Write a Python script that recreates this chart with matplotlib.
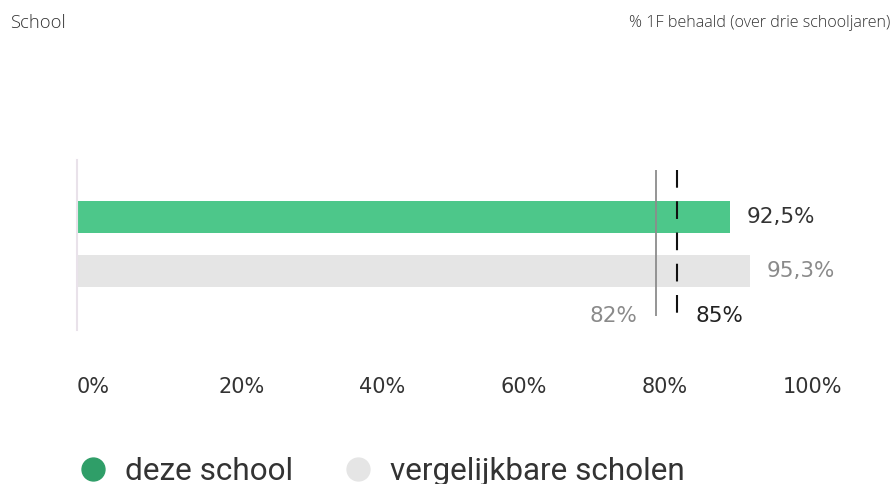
import matplotlib.pyplot as plt
from matplotlib.lines import Line2D

# data
series = ["deze school", "vergelijkbare scholen"]
values = [92.5, 95.3]
ref_lines = [82, 85]          # signaalwaarde / streefwaarde
x_ticks = [0, 20, 40, 60, 80, 100]

bar_colors = ["#4dc78a", "#e5e5e5"]
legend_colors = ["#2f9e68", "#e5e5e5"]
value_colors = ["#333333", "#8a8a8a"]


def pct(v):
    # Dutch notation: comma as decimal separator
    s = f"{v:.1f}" if v % 1 else f"{v:.0f}"
    return s.replace(".", ",") + "%"


W, H = 894, 484
fig = plt.figure(figsize=(W / 100, H / 100), dpi=100)
ax = fig.add_axes([77 / W, (H - 330) / H, 706 / W, 170 / H])

ypos = list(range(len(values)))
ax.barh(ypos, values, height=0.59, color=bar_colors)
ax.set_xlim(0, 100)
ax.set_ylim(2.086, -1.044)

# value labels next to the bars
for y, v, c in zip(ypos, values, value_colors):
    ax.annotate(pct(v), (v, y), xytext=(12, 0), textcoords="offset points",
                ha="left", va="center", fontsize=15.5, color=c)

# reference lines
line_bottom = 1.83
ax.vlines(ref_lines[0], -0.86, line_bottom, color="#8c8c8c", lw=1.3)
ax.vlines(ref_lines[1], -0.86, line_bottom, color="#111111", lw=1.5,
          linestyles=(0, (8.5, 6.5)))
ax.annotate(pct(ref_lines[0]), (ref_lines[0], line_bottom), xytext=(-13, 0),
            textcoords="offset points", ha="right", va="center",
            fontsize=15.5, color="#8a8a8a")
ax.annotate(pct(ref_lines[1]), (ref_lines[1], line_bottom), xytext=(13, 0),
            textcoords="offset points", ha="left", va="center",
            fontsize=15.5, color="#222222")

# axes styling
for side in ["top", "right", "bottom"]:
    ax.spines[side].set_visible(False)
ax.spines["left"].set_color("#e9e2ea")
ax.spines["left"].set_linewidth(1.5)
ax.set_yticks([])
ax.set_xticks(x_ticks)
ax.set_xticklabels([f"{t}%" for t in x_ticks], fontsize=15, color="#333333")
for tl in ax.get_xticklabels():
    tl.set_ha("left")
ax.tick_params(axis="x", length=0, pad=34)

# header
fig.text(10 / W, 1 - 23 / H, "School", ha="left", va="center",
         fontsize=13.2, family="Open Sans", fontweight="light", color="#333333")
fig.text(890 / W, 1 - 23 / H, "% 1F behaald (over drie schooljaren)",
         ha="right", va="center", fontsize=11.6, family="Open Sans",
         fontweight="light", color="#333333")

# legend
handles = [Line2D([], [], marker="o", ls="", ms=16.5, color=c, mec=c)
           for c in legend_colors]
fig.legend(handles, series, loc="center left",
           bbox_to_anchor=(77 / W, (H - 472) / H), ncol=2, frameon=False,
           handlelength=1.0, handletextpad=0.52, columnspacing=1.56,
           borderpad=0, borderaxespad=0,
           prop={"family": "Roboto", "size": 22.7}, labelcolor="#333333")

fig.savefig("out.png", dpi=100)
